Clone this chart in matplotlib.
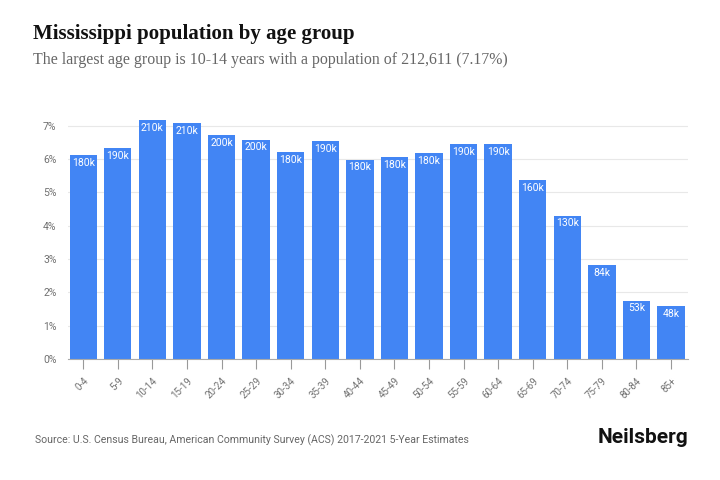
import matplotlib
matplotlib.use("Agg")
import matplotlib.pyplot as plt
from matplotlib.ticker import FuncFormatter

# age groups and estimated populations
age_groups = ['0-4', '5-9', '10-14', '15-19', '20-24', '25-29', '30-34', '35-39', '40-44',
              '45-49', '50-54', '55-59', '60-64', '65-69', '70-74', '75-79', '80-84', '85+']
population = [181000, 187400, 212611, 210000, 199000, 195000, 184000, 193600, 177300,
              179400, 183000, 191300, 191300, 159200, 127500, 83600, 52900, 47500]
share_pct = [6.12, 6.32, 7.17, 7.08, 6.71, 6.58, 6.20, 6.53, 5.98,
             6.05, 6.17, 6.45, 6.45, 5.37, 4.30, 2.81, 1.75, 1.59]
y_ticks = [0, 1, 2, 3, 4, 5, 6, 7]

bar_color = '#4285F4'
grey = '#707070'


def short_label(v):
    # two significant figures, in thousands
    k = v / 1000
    if k >= 100:
        return '%dk' % (round(k / 10) * 10)
    return '%dk' % round(k)


fig = plt.figure(figsize=(7.2, 4.8), dpi=100)
ax = fig.add_axes([0.094, 0.252, 0.862, 0.5])

x = list(range(len(age_groups)))
bars = ax.bar(x, share_pct, width=0.79, color=bar_color, zorder=2)

for i, b in enumerate(bars):
    ax.text(b.get_x() + b.get_width() / 2, b.get_height() - 0.08, short_label(population[i]),
            ha='center', va='top', color='white', fontsize=7.5, family='Roboto', zorder=3)

ax.set_xlim(-0.45, 17.5)
ax.set_ylim(0, 7.2)
ax.set_yticks(y_ticks)
ax.yaxis.set_major_formatter(FuncFormatter(lambda v, p: '%d%%' % v))
ax.set_xticks(x)
ax.set_xticklabels(age_groups, rotation=45, ha='right', rotation_mode='anchor')

ax.grid(axis='y', color='#e8e8e8', linewidth=0.8, zorder=0)
for s in ['top', 'right', 'left']:
    ax.spines[s].set_visible(False)
ax.spines['bottom'].set_color('#aaaaaa')
ax.spines['bottom'].set_zorder(4)

ax.tick_params(axis='y', length=0, pad=8, labelsize=7.5, labelcolor=grey)
ax.tick_params(axis='x', length=7, width=0.8, color='#999999', pad=5, labelsize=7, labelcolor=grey)
for lbl in ax.get_xticklabels() + ax.get_yticklabels():
    lbl.set_family('Roboto')

fig.text(0.046, 0.918, 'Mississippi population by age group', fontsize=15,
         family='Liberation Serif', weight='bold', color='#111111', va='baseline')
fig.text(0.046, 0.866, 'The largest age group is 10-14 years with a population of 212,611 (7.17%)',
         fontsize=11.4, family='Liberation Serif', color='#666666', va='baseline')

fig.text(0.048, 0.077, 'Source: U.S. Census Bureau, American Community Survey (ACS) 2017-2021 5-Year Estimates',
         fontsize=7.6, family='Roboto', color='#666666', va='baseline')
fig.text(0.956, 0.077, 'Neilsberg', fontsize=15, family='Roboto', weight='bold',
         color='#111111', ha='right', va='baseline')

fig.savefig('out.png', dpi=100)
